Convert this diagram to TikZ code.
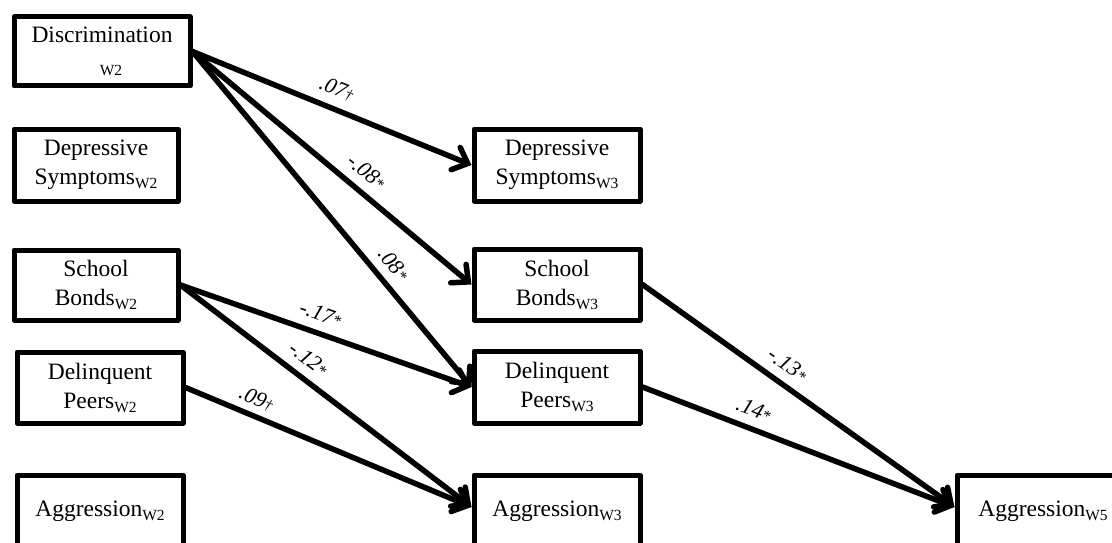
\documentclass[tikz,border=0pt]{standalone}
\usepackage{fontspec}
\setmainfont{Liberation Serif}
\usetikzlibrary{arrows.meta}

% text sizes for box labels, wave subscripts and path coefficients
\newcommand\boxsize{\fontsize{23.5}{29}\selectfont}
\newcommand\coefsize{\fontsize{22}{24}\selectfont}
\newcommand\wsub[1]{\raisebox{-4pt}{\fontsize{15.5}{15.5}\selectfont #1}}
\newcommand\sigstar{{\fontsize{16}{16}\selectfont *}}
\newcommand\sigdag{{\fontsize{15}{15}\selectfont\textdagger}}

\begin{document}
\begin{tikzpicture}[x=1pt,y=-1pt,
  box/.style={draw, line width=5pt, line join=round, minimum width=#1,
    minimum height=72pt, inner sep=0pt, align=center, font=\boxsize},
  box/.default=166pt,
  pathline/.style={line width=5.5pt, line cap=round,
    -{Straight Barb[length=13pt,width=24pt,line cap=round]}},
  coef/.style={sloped, above=8pt, inner sep=1pt, font=\coefsize\itshape}]

\useasboundingbox (0,0) rectangle (1112,543);
\clip (0,0) rectangle (1112,543);

% wave 2 constructs
\node[box=176pt, minimum height=69pt] (disc) at (102,51.5)
  {Discrimination\\\hspace*{18pt}\wsub{W2}};
\node[box=164pt] (dep2) at (96,165) {Depressive\\Symptoms\wsub{W2}};
\node[box=164pt, minimum height=70pt] (sb2) at (96,285) {School\\Bonds\wsub{W2}};
\node[box=166pt, minimum height=71pt] (dp2) at (100,387.5) {Delinquent\\Peers\wsub{W2}};
\node[box=166pt] (ag2) at (100,511) {Aggression\wsub{W2}};

% wave 3 constructs
\node[box] (dep3) at (557,165) {Depressive\\Symptoms\wsub{W3}};
\node[box, minimum height=71pt] (sb3) at (557,284.5) {School\\Bonds\wsub{W3}};
\node[box] (dp3) at (557,387) {Delinquent\\Peers\wsub{W3}};
\node[box] (ag3) at (557,511) {Aggression\wsub{W3}};

% wave 5 outcome
\node[box=172pt] (ag5) at (1043,511) {Aggression\wsub{W5}};

% structural paths with standardized coefficients
\draw[pathline] (disc.east) -- node[coef, pos=0.49] {.07\sigdag} (dep3.west);
\draw[pathline] (disc.east) -- node[coef, pos=0.58] {-.08\sigstar} (sb3.west);
\draw[pathline] (disc.east) -- node[coef, pos=0.67] {.08\sigstar} (dp3.west);
\draw[pathline] (sb2.east) -- node[coef, pos=0.46] {-.17\sigstar} (dp3.west);
\draw[pathline] (sb2.east) -- node[coef, pos=0.40] {-.12\sigstar} ([yshift=4pt]ag3.west);
\draw[pathline] (dp2.east) -- node[coef, pos=0.225, above=-3pt] {.09\sigdag} ([yshift=4pt]ag3.west);
\draw[pathline] (sb3.east) -- node[coef, pos=0.43] {-.13\sigstar} ([yshift=4pt]ag5.west);
\draw[pathline] (dp3.east) -- node[coef, pos=0.335] {.14\sigstar} ([yshift=4pt]ag5.west);

\end{tikzpicture}
\end{document}
